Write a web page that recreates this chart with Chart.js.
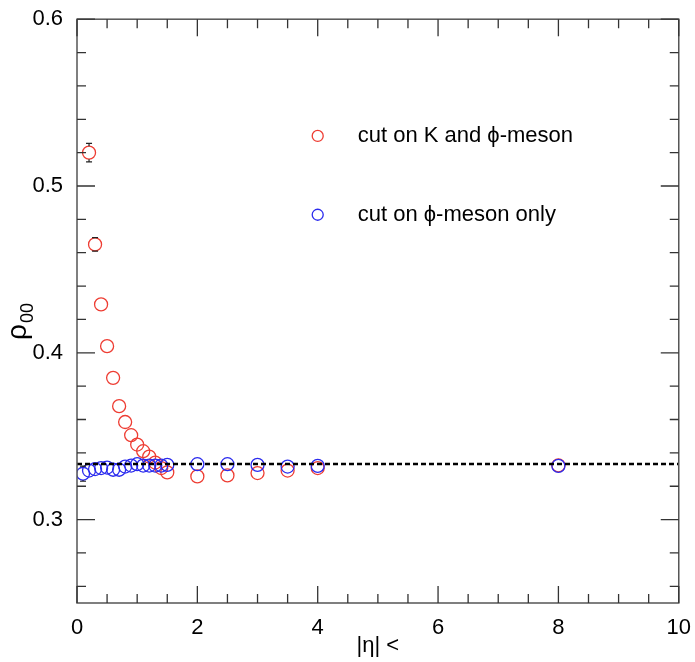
<!DOCTYPE html>
<html>
<head>
<meta charset="utf-8">
<script src="https://cdn.jsdelivr.net/npm/chart.js@4/dist/chart.umd.min.js"></script>
<style>
  html, body { margin: 0; padding: 0; background: #fff; }
  #wrap { width: 695px; height: 662px; }
</style>
</head>
<body>
<div id="wrap"><canvas id="rhoChart"></canvas></div>
<script>
// |eta| cut values and rho00
const etaKPhi   = [0.2, 0.3, 0.4, 0.5, 0.6, 0.7, 0.8, 0.9, 1.0, 1.1, 1.2, 1.3, 1.4, 1.5, 2, 2.5, 3, 3.5, 4, 8];
const rhoKPhi   = [0.520, 0.465, 0.429, 0.404, 0.385, 0.368, 0.3585, 0.3506, 0.345, 0.341, 0.3378, 0.3342, 0.3309, 0.3283, 0.3259, 0.3265, 0.3279, 0.3294, 0.3309, 0.3325];
const errKPhi   = [0.0055, 0.004, 0.002, 0.0015, 0.001, 0.001, 0.001, 0.001, 0.001, 0.001, 0.001, 0.001, 0.001, 0.001, 0.001, 0.001, 0.001, 0.001, 0.001, 0.001];

const etaPhi    = [0.1, 0.2, 0.3, 0.4, 0.5, 0.6, 0.7, 0.8, 0.9, 1.0, 1.1, 1.2, 1.3, 1.4, 1.5, 2, 2.5, 3, 3.5, 4, 8];
const rhoPhi    = [0.3275, 0.3294, 0.3303, 0.3309, 0.3312, 0.3299, 0.3299, 0.3318, 0.3324, 0.3332, 0.3324, 0.3324, 0.3324, 0.3324, 0.3328, 0.3332, 0.3332, 0.3328, 0.3318, 0.3322, 0.3322];
const errPhi    = [0.0045, 0.001, 0.001, 0.001, 0.001, 0.001, 0.001, 0.001, 0.001, 0.001, 0.001, 0.001, 0.001, 0.001, 0.001, 0.001, 0.001, 0.001, 0.001, 0.001, 0.001];

const refLevel  = [1 / 3, 1 / 3];
const refEta    = [0, 10];

const xTickValues = [0, 2, 4, 6, 8, 10];
const yTickValues = [0.3, 0.4, 0.5, 0.6];
const legendLabels = ['cut on K and \u03d5-meson', 'cut on \u03d5-meson only'];

const RED = '#ee3d33';
const BLUE = '#2b2bee';
const FONT = 'Liberation Sans, Arial, Helvetica, sans-serif';

function toPoints(xs, ys) {
    return xs.map((x, i) => ({ x: x, y: ys[i] }));
}

// ROOT-like frame: box with inside ticks on all four sides
const framePlugin = {
    id: 'frame',
    afterDraw(chart) {
        const { ctx, chartArea: a, scales } = chart;
        ctx.save();
        ctx.strokeStyle = '#555';
        ctx.lineWidth = 1.5;
        ctx.strokeRect(a.left, a.top, a.right - a.left, a.bottom - a.top);

        ctx.strokeStyle = '#333';
        ctx.lineWidth = 1.3;
        const xs = scales.x, ys = scales.y;
        for (let i = 0; i <= 20; i++) {
            const v = i * 0.5;
            const len = (i % 4 === 0) ? 17 : 9;
            const px = xs.getPixelForValue(v);
            ctx.beginPath();
            ctx.moveTo(px, a.bottom); ctx.lineTo(px, a.bottom - len);
            ctx.moveTo(px, a.top); ctx.lineTo(px, a.top + len);
            ctx.stroke();
        }
        for (let i = 0; i <= 17; i++) {
            const v = 0.26 + i * 0.02;
            const len = (Math.abs((v * 10) - Math.round(v * 10)) < 1e-6) ? 18 : 9;
            const py = ys.getPixelForValue(v);
            ctx.beginPath();
            ctx.moveTo(a.left, py); ctx.lineTo(a.left + len, py);
            ctx.moveTo(a.right, py); ctx.lineTo(a.right - len, py);
            ctx.stroke();
        }
        ctx.restore();
    }
};

// vertical error bars, hidden under the open marker
const errorBarPlugin = {
    id: 'errorBars',
    afterDatasetsDraw(chart) {
        const { ctx, scales } = chart;
        ctx.save();
        ctx.strokeStyle = '#222';
        ctx.lineWidth = 1.2;
        chart.data.datasets.forEach((ds) => {
            if (!ds.errors) return;
            const r = ds.pointRadius;
            ds.data.forEach((p, i) => {
                const px = scales.x.getPixelForValue(p.x);
                const py = scales.y.getPixelForValue(p.y);
                const hi = scales.y.getPixelForValue(p.y + ds.errors[i]);
                const lo = scales.y.getPixelForValue(p.y - ds.errors[i]);
                const d = py - hi;
                if (d < r - 0.5) return;
                ctx.beginPath();
                if (d > r) {
                    ctx.moveTo(px, py - r); ctx.lineTo(px, hi);
                    ctx.moveTo(px, py + r); ctx.lineTo(px, lo);
                }
                ctx.moveTo(px - 3, hi); ctx.lineTo(px + 3, hi);
                ctx.moveTo(px - 3, lo); ctx.lineTo(px + 3, lo);
                ctx.stroke();
            });
        });
        ctx.restore();
    }
};

// legend inside the frame and the rho_00 axis title with subscript
const labelsPlugin = {
    id: 'labels',
    afterDraw(chart) {
        const { ctx, chartArea: a } = chart;
        const w = a.right - a.left, h = a.bottom - a.top;
        ctx.save();
        const rows = [
            { color: RED, text: legendLabels[0], y: a.top + 0.2 * h },
            { color: BLUE, text: legendLabels[1], y: a.top + 0.335 * h }
        ];
        const mx = a.left + 0.4 * w;
        rows.forEach(row => {
            ctx.beginPath();
            ctx.strokeStyle = row.color;
            ctx.lineWidth = 1.3;
            ctx.arc(mx, row.y, 5.5, 0, Math.PI * 2);
            ctx.stroke();
            ctx.fillStyle = '#000';
            ctx.font = '22px ' + FONT;
            ctx.textAlign = 'left';
            ctx.textBaseline = 'middle';
            ctx.fillText(row.text, mx + 40, row.y);
        });

        ctx.translate(26, 340);
        ctx.rotate(-Math.PI / 2);
        ctx.fillStyle = '#000';
        ctx.textBaseline = 'alphabetic';
        ctx.textAlign = 'left';
        ctx.font = '28px ' + FONT;
        ctx.fillText('\u03c1', 0, 0);
        const rw = ctx.measureText('\u03c1').width;
        ctx.font = '18px ' + FONT;
        ctx.fillText('00', rw + 1, 7);
        ctx.restore();
    }
};

new Chart(document.getElementById('rhoChart'), {
    type: 'scatter',
    data: {
        datasets: [
            {
                label: 'ref',
                type: 'line',
                data: toPoints(refEta, refLevel),
                borderColor: '#000',
                borderWidth: 2.5,
                borderDash: [5, 3],
                pointRadius: 0,
                order: 0
            },
            {
                label: legendLabels[1],
                data: toPoints(etaPhi, rhoPhi),
                errors: errPhi,
                borderColor: BLUE,
                backgroundColor: 'rgba(0,0,0,0)',
                pointRadius: 6.5,
                pointBorderWidth: 1.3,
                order: 1
            },
            {
                label: legendLabels[0],
                data: toPoints(etaKPhi, rhoKPhi),
                errors: errKPhi,
                borderColor: RED,
                backgroundColor: 'rgba(0,0,0,0)',
                pointRadius: 6.5,
                pointBorderWidth: 1.3,
                order: 2
            }
        ]
    },
    options: {
        responsive: true,
        maintainAspectRatio: false,
        animation: false,
        events: [],
        layout: { padding: { top: 15, right: 14, left: 0, bottom: 0 } },
        plugins: {
            legend: { display: false },
            tooltip: { enabled: false }
        },
        scales: {
            x: {
                type: 'linear',
                min: 0,
                max: 10,
                grid: { display: false },
                border: { display: false },
                afterBuildTicks: (s) => { s.ticks = xTickValues.map(v => ({ value: v })); },
                afterFit: (s) => { s.height = 59; },
                ticks: {
                    padding: 4,
                    color: '#000',
                    font: { family: FONT, size: 22 },
                    maxRotation: 0,
                    callback: (v) => String(v)
                },
                title: {
                    display: true,
                    text: '|\u03b7| <',
                    color: '#000',
                    font: { family: FONT, size: 22 },
                    padding: { top: 0, bottom: 3 }
                }
            },
            y: {
                type: 'linear',
                min: 0.25,
                max: 0.6,
                grid: { display: false },
                border: { display: false },
                afterBuildTicks: (s) => { s.ticks = yTickValues.map(v => ({ value: v })); },
                afterFit: (s) => { s.width = 77; },
                ticks: {
                    padding: 6,
                    color: '#000',
                    font: { family: FONT, size: 22 },
                    callback: (v) => Number(v).toFixed(1)
                }
            }
        }
    },
    plugins: [framePlugin, errorBarPlugin, labelsPlugin]
});
</script>
</body>
</html>
